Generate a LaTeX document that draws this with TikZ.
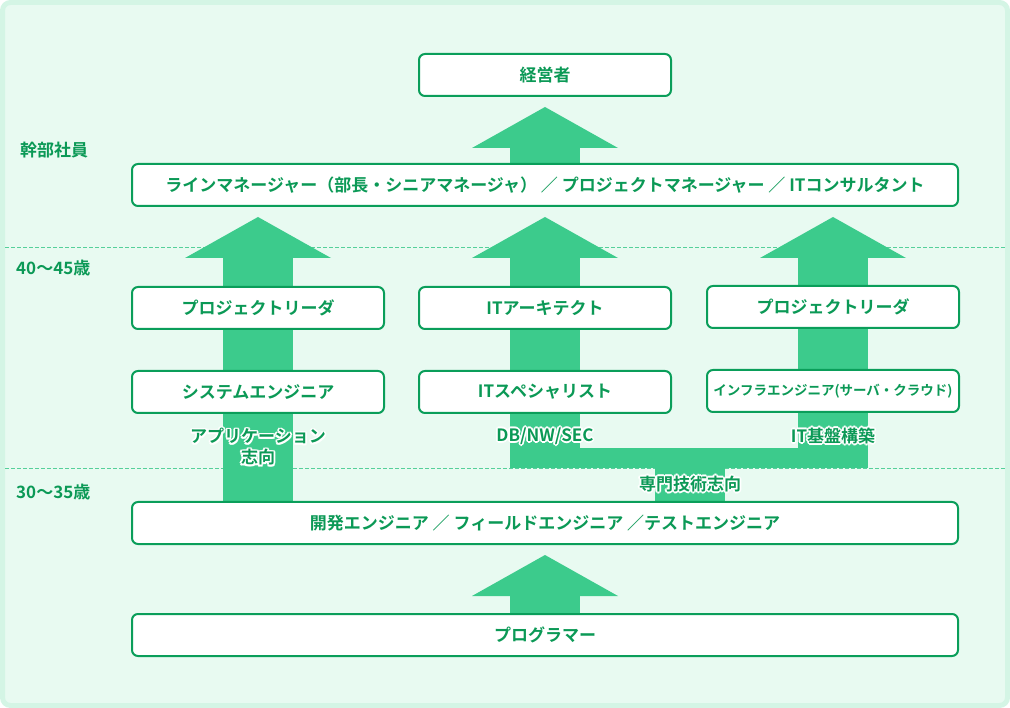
\documentclass[tikz,border=0pt]{standalone}
\usepackage{fontspec}
\setmainfont{Noto Sans CJK JP}[BoldFont={Noto Sans CJK JP Bold}]
\usetikzlibrary{arrows.meta,backgrounds}
\definecolor{framefill}{HTML}{E8FAF1}
\definecolor{frameline}{HTML}{D4F5E5}
\definecolor{boxgreen}{HTML}{0A9E5A}
\definecolor{textgreen}{HTML}{0B9956}
\definecolor{arrowgreen}{HTML}{3CCB8C}
\definecolor{dashgreen}{HTML}{55D09A}

% white outline behind a label
\newcommand\haloat[3]{\rlap{\kern#1\raisebox{#2}{\textcolor{white}{#3}}}}
\newcommand\halo[1]{%
  \haloat{1.8pt}{0pt}{#1}\haloat{-1.8pt}{0pt}{#1}%
  \haloat{0pt}{1.8pt}{#1}\haloat{0pt}{-1.8pt}{#1}%
  \haloat{1.3pt}{1.3pt}{#1}\haloat{-1.3pt}{1.3pt}{#1}%
  \haloat{1.3pt}{-1.3pt}{#1}\haloat{-1.3pt}{-1.3pt}{#1}#1}

\begin{document}
\begin{tikzpicture}[x=1pt, y=-1pt, text=textgreen,
  font=\bfseries\fontsize{17}{21}\selectfont,
  careerbox/.style={draw=boxgreen, line width=2pt, fill=white, rounded corners=6pt,
    minimum width=252pt, minimum height=42pt, inner sep=0pt},
  widebox/.style={careerbox, minimum width=826pt},
  agelabel/.style={anchor=west, inner sep=0pt},
  pathlabel/.style={align=center, inner sep=0pt},
  fatarrow/.style={draw=arrowgreen, line width=70pt, shorten >=10pt,
    -{Triangle[width=146pt, length=41pt, line width=0pt]}}]

\useasboundingbox (0,0) rectangle (1010,708);

% career boxes
\node[careerbox] (mgmt) at (545,75) {経営者};
\node[widebox] (lm) at (545,185) {ラインマネージャー（部長・シニアマネージャ） ／ プロジェクトマネージャー ／ ITコンサルタント};
\node[careerbox] (pl1) at (258,308) {プロジェクトリーダ};
\node[careerbox] (se) at (258,392) {システムエンジニア};
\node[careerbox] (arch) at (545,308) {ITアーキテクト};
\node[careerbox] (spec) at (545,392) {ITスペシャリスト};
\node[careerbox] (pl2) at (833,307) {プロジェクトリーダ};
\node[careerbox, font=\bfseries\fontsize{13.5}{16}\selectfont] (infra) at (833,391) {インフラエンジニア(サーバ・クラウド)};
\node[widebox] (dev) at (545,523) {開発エンジニア ／ フィールドエンジニア ／テストエンジニア};
\node[widebox] (pg) at (545,635) {プログラマー};

% side labels
\node[agelabel] (exec) at (20,150) {幹部社員};
\node[agelabel] (age40) at (16,268) {40〜45歳};
\node[agelabel] (age30) at (16,492) {30〜35歳};

% path labels
\node[pathlabel] (appl) at (258,447) {\halo{アプリケーション}\\\halo{志向}};
\node[pathlabel] (dbnw) at (545,436) {\halo{DB/NW/SEC}};
\node[pathlabel] (infl) at (833,436) {\halo{IT基盤構築}};
\node[pathlabel] (tech) at (690,484) {\halo{専門技術志向}};

\coordinate (fork) at (690,468);

\begin{scope}[on background layer]
  \draw[draw=frameline, fill=framefill, line width=5pt, rounded corners=8pt]
    (2.5,2.5) rectangle (1007.5,705.5);
  \draw[dashgreen, line width=0.8pt, dash pattern=on 4pt off 2pt] (5,247) -- (1005,247);
  \draw[dashgreen, line width=0.8pt, dash pattern=on 4pt off 2pt] (5,468) -- (1005,468);

  % U-shaped branch for the specialist paths
  \fill[arrowgreen] (511,448) rectangle (868,468);
  \fill[arrowgreen] (655,468) rectangle (725,501);

  \draw[fatarrow] (pg.north) -- (dev.south);
  \draw[fatarrow] (dev.north -| se.south) -- (lm.south -| se.south);
  \draw[fatarrow] (fork -| spec.south) -- (lm.south);
  \draw[fatarrow] (fork -| infra.south) -- (lm.south -| infra.south);
  \draw[fatarrow] (lm.north) -- (mgmt.south);
\end{scope}
\end{tikzpicture}
\end{document}
